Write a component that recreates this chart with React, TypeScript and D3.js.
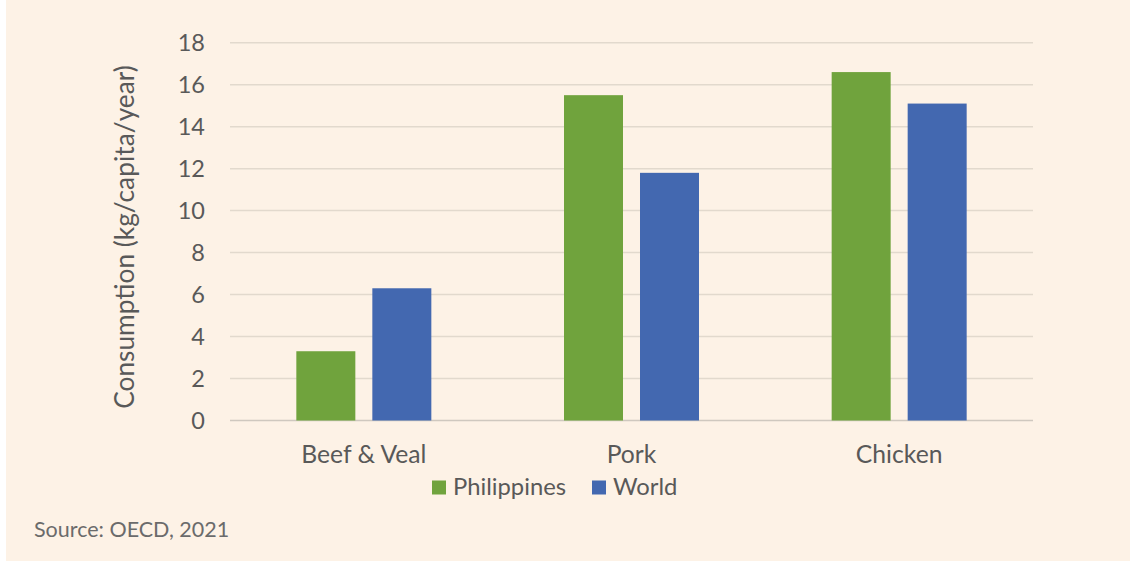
import React from "react";
import * as d3 from "d3";

const categories = ["Beef & Veal", "Pork", "Chicken"];
const seriesNames = ["Philippines", "World"];
const philippines = [3.3, 15.5, 16.6];
const world = [6.3, 11.8, 15.1];
const yTicks = [0, 2, 4, 6, 8, 10, 12, 14, 16, 18];
const colors = ["#70a33d", "#4368b0"];

const W = 1130;
const H = 562;
const plot = { left: 230, right: 1033, top: 42.7, bottom: 420.5 };
const FONT = "Lato, 'Open Sans', sans-serif";

export default function App() {
  const x = d3.scaleBand<string>().domain(categories).range([plot.left, plot.right]).paddingInner(0).paddingOuter(0);
  const y = d3.scaleLinear().domain([0, 18]).range([plot.bottom, plot.top]);
  const barW = 59;
  const gap = 17;
  const series = [philippines, world];
  return (
    <svg width={W} height={H} style={{ position: "absolute", left: 0, top: 0 }}>
      <rect x={0} y={0} width={W} height={H} fill="#ffffff" />
      <rect x={6} y={0} width={W - 6} height={561} fill="#fdf2e6" />
      {yTicks.map((t) => (
        <g key={t}>
          <line x1={plot.left} x2={plot.right} y1={y(t)} y2={y(t)} stroke={t === 0 ? "#cfc8bf" : "#e2d9cd"} strokeWidth={1.5} />
          <text x={205} y={y(t)} dy="0.36em" textAnchor="end" fontFamily={FONT} fontSize={23.5} fill="#595959">{t}</text>
        </g>
      ))}
      {categories.map((c, i) => {
        const cx = (x(c) as number) + x.bandwidth() / 2;
        return (
          <g key={c}>
            {series.map((s, j) => {
              const bx = cx - barW - gap / 2 + j * (barW + gap);
              return (
                <rect key={j} x={bx} y={y(s[i])} width={barW} height={y(0) - y(s[i])} fill={colors[j]} />
              );
            })}
            <text x={cx} y={462.5} textAnchor="middle" fontFamily={FONT} fontSize={24.7} fill="#595959">{c}</text>
          </g>
        );
      })}
      <text transform={`translate(134,237) rotate(-90)`} textAnchor="middle" fontFamily={FONT} fontSize={26.3} fill="#595959">Consumption (kg/capita/year)</text>
      {seriesNames.map((n, j) => {
        const lx = [432, 592][j];
        return (
          <g key={n}>
            <rect x={lx} y={480.5} width={14} height={14} fill={colors[j]} />
            <text x={lx + 21} y={495} fontFamily={FONT} fontSize={23.8} fill="#595959">{n}</text>
          </g>
        );
      })}
      <text x={34} y={537} fontFamily="Lato, 'Open Sans', sans-serif" fontSize={21.5} fill="#6b6b6b">Source: OECD, 2021</text>
    </svg>
  );
}
